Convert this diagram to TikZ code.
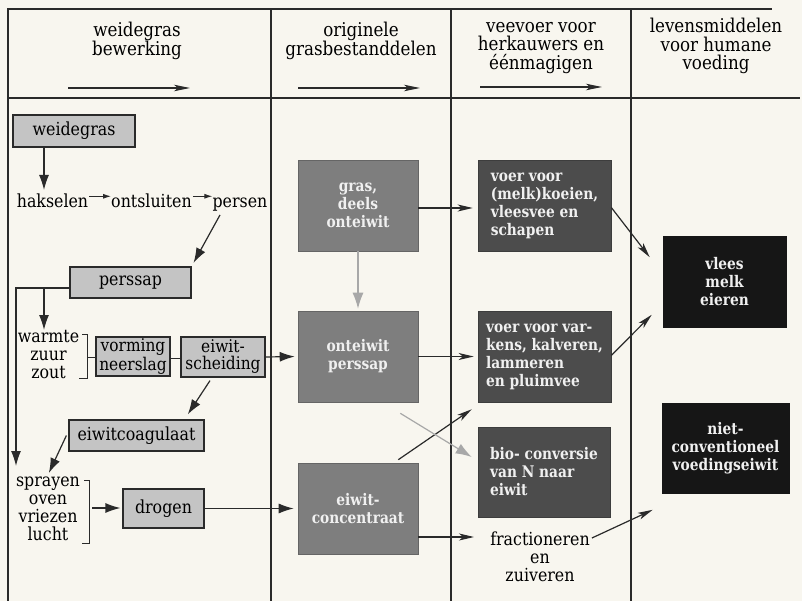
\documentclass[tikz,border=0pt]{standalone}
\usepackage{fontspec}
\setmainfont{DejaVu Serif}[FakeStretch=0.88]
\newfontfamily\boxfont{DejaVu Serif}[FakeStretch=0.86]
\usetikzlibrary{arrows.meta}
\definecolor{bg}{HTML}{F8F6EF}
\definecolor{frm}{HTML}{2A2A2A}
\definecolor{lgray}{HTML}{C4C4C4}
\definecolor{mgray}{HTML}{7E7E7E}
\definecolor{dgray}{HTML}{4C4C4C}
\definecolor{kgray}{HTML}{161616}
\definecolor{wtxt}{HTML}{F0F0F0}
\definecolor{garrow}{HTML}{A8A8A8}
\newcommand\myhead{\fontsize{19}{18.5}\selectfont}
\newcommand\mybody{\fontsize{18}{18}\selectfont}
\newcommand\mybold{\boxfont\fontsize{16}{18}\selectfont\bfseries}
\tikzset{
  frame/.style={line width=1.4pt, draw=frm},
  headtxt/.style={font=\myhead, align=center, inner sep=0pt},
  bodytxt/.style={font=\mybody, align=center, inner sep=0pt},
  lbox/.style={draw=frm, line width=1.2pt, fill=lgray, inner sep=0pt, font=\mybody, align=center},
  mbox/.style={draw=mgray!80!black, line width=0.6pt, fill=mgray, inner sep=0pt, font=\mybold, text=wtxt, align=center},
  dbox/.style={draw=dgray!80!black, line width=0.6pt, fill=dgray, inner sep=0pt, font=\mybold, text=wtxt, align=left},
  kbox/.style={draw=kgray, line width=0.6pt, fill=kgray, inner sep=0pt, font=\mybold, text=wtxt, align=center},
  arr/.style={-{Latex[length=15pt,width=10pt]}, line width=1.2pt, draw=frm},
  narr/.style={-{Stealth[length=15pt,width=7pt,inset=4pt]}, line width=1.2pt, draw=frm},
  sarr/.style={-{Latex[length=8pt,width=5pt]}, line width=1pt, draw=frm},
  harr/.style={-{Stealth[length=16pt,width=6.5pt,inset=4pt]}, line width=1.2pt, draw=frm},
  garr/.style={-{Latex[length=16pt,width=11pt]}, line width=1.2pt, draw=garrow},
  brk/.style={line width=1pt, draw=frm},
}
\begin{document}
\begin{tikzpicture}[x=1pt,y=-1pt]
\useasboundingbox (0,0) rectangle (802,601);
\fill[bg] (0,0) rectangle (802,601);

% frame
\draw[frame] (8,601) -- (8,9) -- (772,9);
\draw[frame] (8,98) -- (800,98);
\draw[frame] (271,9) -- (271,601);
\draw[frame] (451,9) -- (451,601);
\draw[frame] (631,9) -- (631,601);

% headers
\node[headtxt] (h1) at (137,41) {weidegras\\bewerking};
\node[headtxt] (h2) at (361,41) {originele\\grasbestanddelen};
\node[headtxt] (h3) at (541,48) {veevoer voor\\herkauwers en\\éénmagigen};
\node[headtxt] (h4) at (716,46) {levensmiddelen\\voor humane\\voeding};
\coordinate (a1s) at (68,88);  \coordinate (a1e) at (190,88);
\coordinate (a2s) at (298,88); \coordinate (a2e) at (420,88);
\coordinate (a3s) at (480,87); \coordinate (a3e) at (602,87);
\draw[harr] (a1s) -- (a1e);
\draw[harr] (a2s) -- (a2e);
\draw[harr] (a3s) -- (a3e);

% column 1
\node[lbox, minimum width=122pt, minimum height=32pt] (weide) at (74,131) {weidegras};
\node[bodytxt, anchor=base] (hak) at (52.5,208) {hakselen};
\node[bodytxt, anchor=base] (ont) at (151.5,208) {ontsluiten};
\node[bodytxt, anchor=base] (per) at (240,208) {persen};
\node[lbox, minimum width=121pt, minimum height=31pt] (perssap) at (130.5,282.5) {perssap};
\node[bodytxt] (warm) at (48.5,355) {warmte\\zuur\\zout};
\node[lbox, minimum width=74pt, minimum height=39pt, font=\fontsize{17.5}{17}\selectfont] (vorm) at (133,356.5) {vorming\\neerslag};
\node[lbox, minimum width=84pt, minimum height=40pt, font=\fontsize{17.5}{17}\selectfont] (eis) at (223,357) {eiwit-\\scheiding};
\node[lbox, minimum width=135pt, minimum height=31pt] (coag) at (136.5,435.5) {eiwitcoagulaat};
\node[bodytxt] (spr) at (48,509) {sprayen\\oven\\vriezen\\lucht};
\node[lbox, minimum width=81pt, minimum height=39pt] (drog) at (163.5,508.5) {drogen};

% column 2
\node[mbox, minimum width=120pt, minimum height=91pt] (gras) at (358,205.5) {gras,\\deels\\onteiwit};
\node[mbox, minimum width=120pt, minimum height=91pt] (onte) at (358,356.5) {onteiwit\\perssap};
\node[mbox, minimum width=120pt, minimum height=91pt] (conc) at (358,508.5) {eiwit-\\concentraat};

% column 3
\node[dbox, minimum width=133pt, minimum height=91pt] (koe) at (544.5,205.5) {voer voor\\(melk)koeien,\\vleesvee en\\schapen};
\node[dbox, minimum width=133pt, minimum height=91pt] (vark) at (544.5,356.5) {voer voor var-\\kens, kalveren,\\lammeren\\en pluimvee};
\node[dbox, minimum width=132pt, minimum height=90pt] (bio) at (544,472) {bio- conversie\\van N naar\\eiwit};
\node[bodytxt] (frac) at (540,557) {fractioneren\\en\\zuiveren};

% column 4
\node[kbox, minimum width=123pt, minimum height=91pt] (vlees) at (724.5,282) {vlees\\melk\\eieren};
\node[kbox, minimum width=127pt, minimum height=90pt] (niet) at (725.5,448.5) {niet-\\conventioneel\\voedingseiwit};

% connectors column 1
\draw[arr] (weide.south -| 44,0) -- (44,190);
\draw[sarr] (hak.east) ++(1,-5) coordinate (s1) -- (ont.west |- s1);
\draw[sarr] (ont.east) ++(1,-5) coordinate (s2) -- (per.west |- s2);
\draw[arr, shorten >=4pt] ([xshift=-20pt,yshift=-3pt]per.south) -- (perssap.north east);
\coordinate (pj) at (44,288);
\coordinate (ltip) at (16,466);
\draw[line width=1.2pt, draw=frm] (perssap.west |- pj) -- (pj);
\draw[arr] (pj) -| (ltip);
\draw[arr] (pj) -- (44,330);
% warmte bracket
\coordinate (wb1) at (82,334); \coordinate (wb2) at (87,334);
\coordinate (wb3) at (87,378); \coordinate (wb4) at (79,378);
\coordinate (wbm) at (87,357);
\draw[brk] (wb1) -- (wb2) -- (wb3) -- (wb4);
\draw[brk] (wbm) -- (vorm.west |- wbm);
\draw[brk] (vorm.east |- 0,358) -- (eis.west |- 0,358);
\draw[arr, shorten >=3pt] (eis.east) -- (onte.west);
\draw[arr, shorten >=6pt] ([xshift=-13pt,yshift=-3pt]eis.south) -- ([xshift=48pt]coag.north);
\draw[arr, shorten >=2pt] ([xshift=-2pt]coag.west) -- ([yshift=2pt]spr.north);
% sprayen bracket
\coordinate (sb1) at (84,480); \coordinate (sb2) at (89,480);
\coordinate (sb3) at (89,543); \coordinate (sb4) at (82,543);
\coordinate (sbm) at (92,508);
\draw[brk] (sb1) -- (sb2) -- (sb3) -- (sb4);
\draw[arr, shorten >=2pt] (sbm) -- (drog.west |- sbm);
\draw[arr, shorten >=4pt] (drog.east) -- (conc.west |- drog.east);

% column 2 -> 3
\draw[garr, shorten >=2pt] (gras.south) -- (onte.north);
\draw[narr, shorten >=5pt] (gras.east |- 0,208) -- (koe.west |- 0,208);
\draw[narr, shorten >=4pt] (onte.east) -- (vark.west);
\coordinate (fa) at (474,537);
\draw[narr] (conc.east |- fa) -- (fa);
\draw[narr] ([xshift=-20pt,yshift=3pt]conc.north east) -- ([xshift=-6pt,yshift=-7pt]vark.south west);
\draw[garr] ([xshift=-18pt,yshift=-11pt]onte.south east) -- ([xshift=-6pt,yshift=15pt]bio.west);

% column 3 -> 4
\draw[narr] ([yshift=-2pt]koe.east) -- ([xshift=-13pt,yshift=-21pt]vlees.north west);
\draw[narr] ([yshift=1pt]vark.east) -- ([xshift=-11pt,yshift=13pt]vlees.south west);
\draw[narr] ([xshift=2pt,yshift=19pt]frac.east) -- ([xshift=-9pt,yshift=-16pt]niet.south west);
\end{tikzpicture}
\end{document}
